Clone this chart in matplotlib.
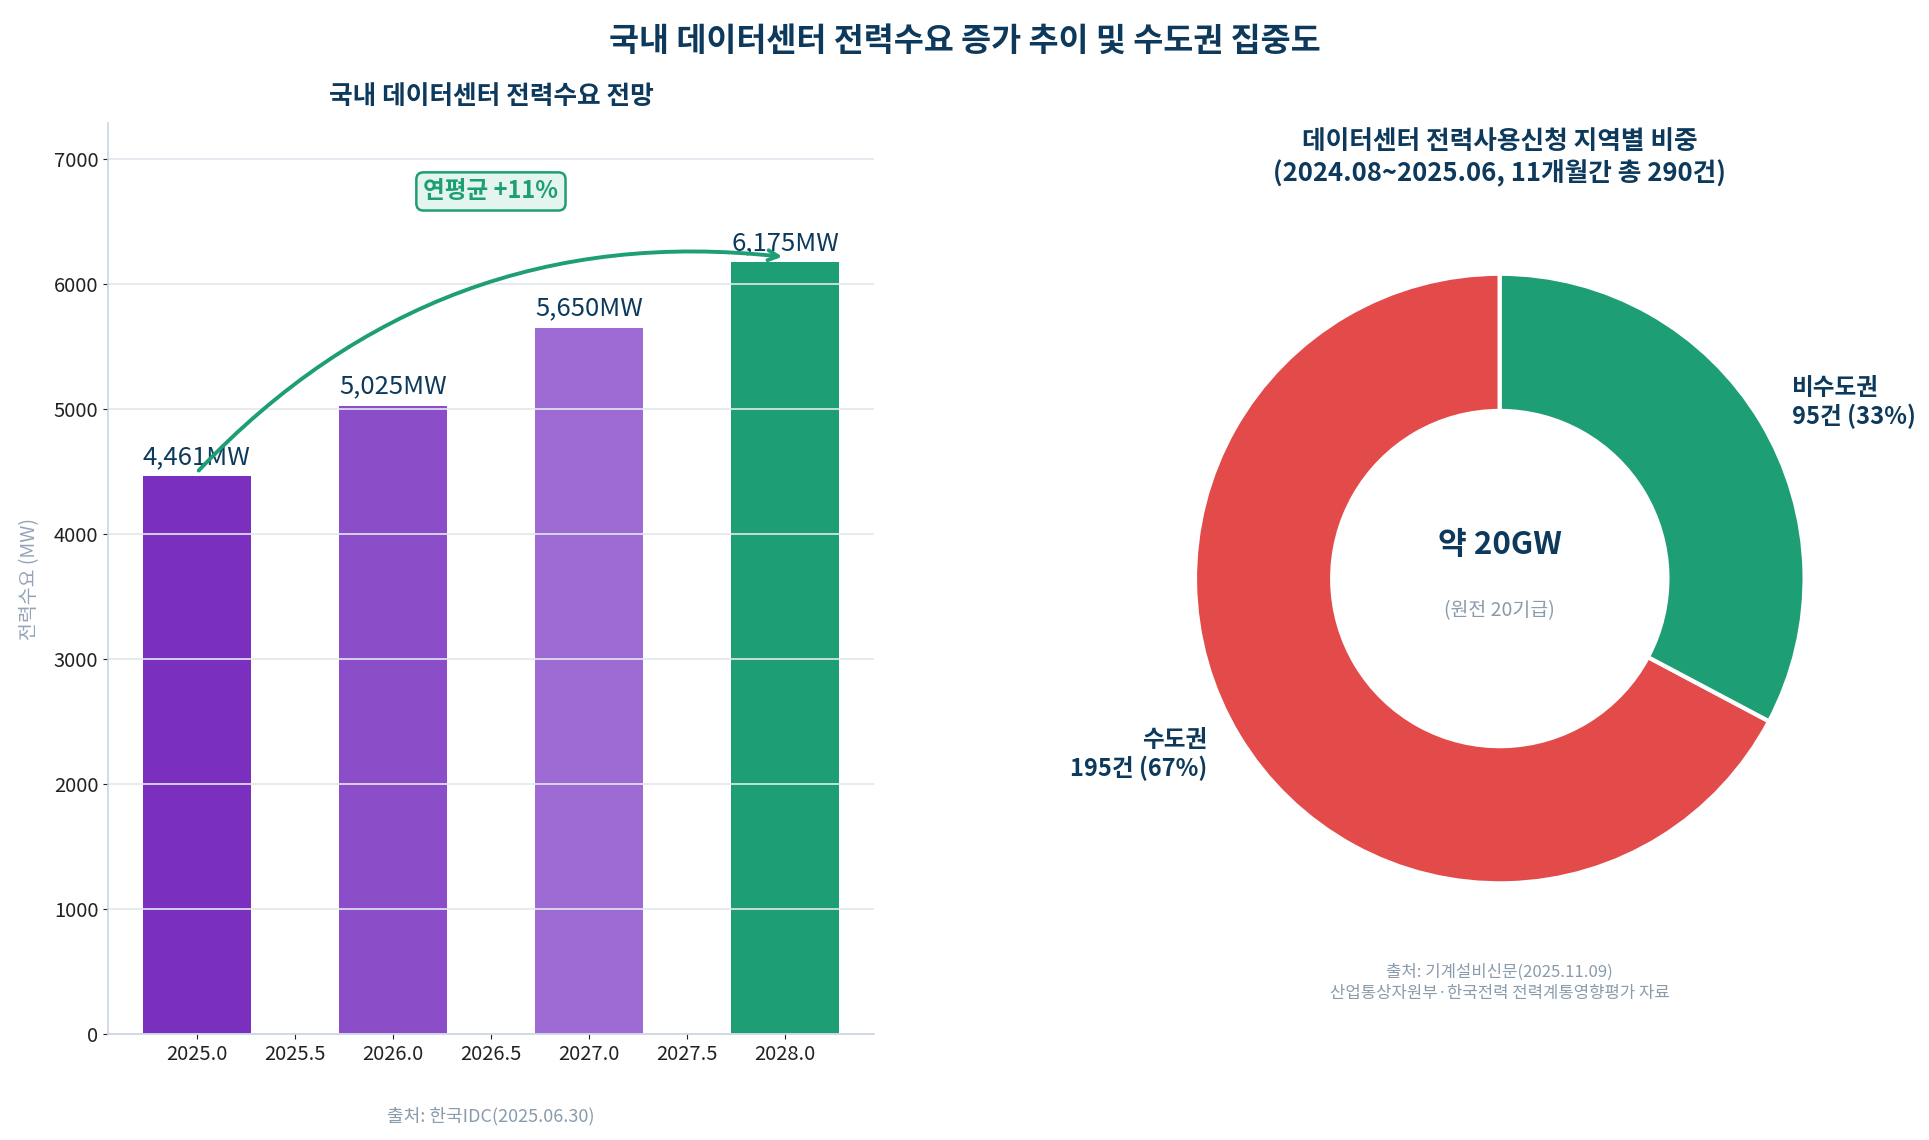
import matplotlib
matplotlib.use("Agg")
import matplotlib.pyplot as plt

plt.rcParams['font.family'] = ['Noto Sans CJK KR', 'DejaVu Sans']
plt.rcParams['axes.unicode_minus'] = False

# ---- data ----
years = [2025, 2026, 2027, 2028]
demand_mw = [4461, 5025, 5650, 6175]
bar_labels = ["4,461MW", "5,025MW", "5,650MW", "6,175MW"]
bar_colors = ["#7B2FBE", "#8C4DC8", "#9E6BD4", "#1E9E74"]

regions = ["수도권", "비수도권"]
region_counts = [195, 95]
region_colors = ["#E34B4B", "#1E9E74"]

NAVY = "#0D3A5C"
GREY = "#8A9BAB"

fig = plt.figure(figsize=(19.29, 11.40), dpi=100)
fig.suptitle("국내 데이터센터 전력수요 증가 추이 및 수도권 집중도",
             fontsize=23.5, fontweight='bold', color=NAVY, y=0.978)

# ---- left: bar chart ----
ax = fig.add_axes([0.056, 0.093, 0.397, 0.799])
ax.bar(years, demand_mw, width=0.55, color=bar_colors)
for x, v, lab in zip(years, demand_mw, bar_labels):
    ax.text(x, v + 50, lab, ha='center', va='bottom', fontsize=18.5,
            color=NAVY, fontweight='medium')
ax.set_ylim(0, max(demand_mw) * 1.18)
ax.grid(axis='y', color='#E2E8F0', linewidth=1.2)
for s in ['top', 'right']:
    ax.spines[s].set_visible(False)
for s in ['left', 'bottom']:
    ax.spines[s].set_color('#CBD5E1')
    ax.spines[s].set_linewidth(1.2)
ax.tick_params(labelsize=14.5, colors='#222222')
ax.set_ylabel("전력수요 (MW)", fontsize=14, color='#94A3B8', labelpad=10)
ax.set_title("국내 데이터센터 전력수요 전망", fontsize=18.5, fontweight='bold',
             color=NAVY, pad=14)
ax.annotate("", xy=(years[-1], demand_mw[-1] + 40), xytext=(years[0], demand_mw[0] + 30),
            arrowprops=dict(arrowstyle='->', color='#1E9E74', lw=2.8,
                            connectionstyle='arc3,rad=-0.25', mutation_scale=18))
ax.text(2026.5, 6740, "연평균 +11%", ha='center', va='center', fontsize=17,
        fontweight='bold', color='#1E9E74',
        bbox=dict(boxstyle='round,pad=0.3', facecolor='#E3F5EE',
                  edgecolor='#1E9E74', linewidth=1.8))
ax.text(0.5, -0.09, "출처: 한국IDC(2025.06.30)", transform=ax.transAxes,
        ha='center', va='center', fontsize=13, color=GREY)

# ---- right: donut ----
ax2 = fig.add_axes([0.58, 0.158, 0.395, 0.669])
total = sum(region_counts)
pie_labels = [f"{r}\n{c}건 ({c / total * 100:.0f}%)" for r, c in zip(regions, region_counts)]
wedges, texts = ax2.pie(region_counts, colors=region_colors, startangle=90,
                        labels=pie_labels, labeldistance=1.12,
                        wedgeprops=dict(width=0.45, edgecolor='white', linewidth=3),
                        textprops=dict(fontsize=17, fontweight='bold', color=NAVY))
ax2.set_aspect('equal')
ax2.text(0, 0.11, "약 20GW", ha='center', va='center', fontsize=22.5,
         fontweight='bold', color=NAVY)
ax2.text(0, -0.105, "(원전 20기급)", ha='center', va='center', fontsize=14, color=GREY)
ax2.set_title("데이터센터 전력사용신청 지역별 비중\n(2024.08~2025.06, 11개월간 총 290건)",
              fontsize=18.5, fontweight='bold', color=NAVY, pad=12, linespacing=1.2)
ax2.text(0.5, -0.005, "출처: 기계설비신문(2025.11.09)\n산업통상자원부·한국전력 전력계통영향평가 자료",
         transform=ax2.transAxes, ha='center', va='top', fontsize=12, color=GREY,
         linespacing=1.35)

fig.savefig("out.png", dpi=100)
